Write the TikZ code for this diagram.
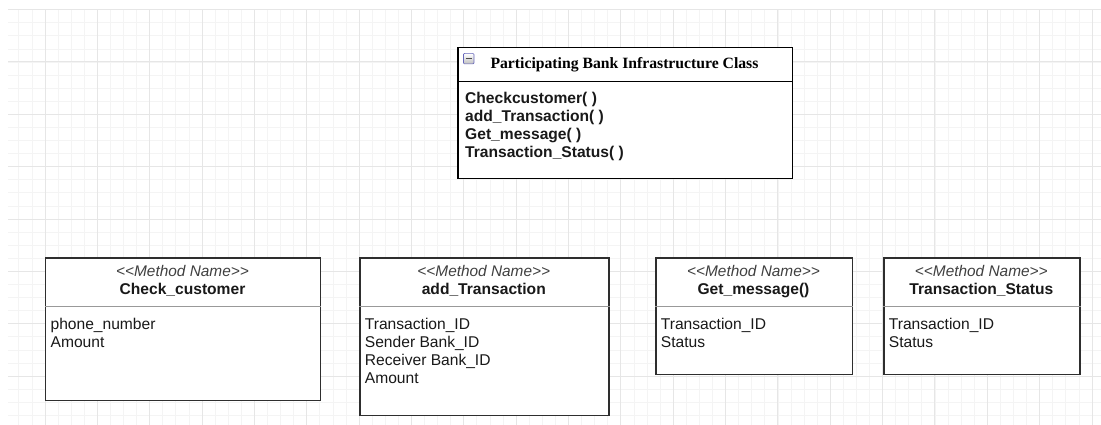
\documentclass[tikz,border=0pt]{standalone}
\usepackage{fontspec}
\setmainfont{Liberation Serif}
\setsansfont{Liberation Sans}
\usepackage{tikz}
\usetikzlibrary{positioning}

\definecolor{gridmajor}{HTML}{E6E6E6}
\definecolor{gridminor}{HTML}{F4F4F4}
\definecolor{boxline}{HTML}{2E2E2E}

\tikzset{
	umlbox/.style={draw=boxline, line width=1.2pt, fill=white, inner sep=0pt, anchor=north west},
	sepline/.style={draw=black!40, line width=0.9pt},
	txt/.style={inner sep=0pt, text=black!90, font=\sffamily\fontsize{15.6}{18}\selectfont},
	method/.style={txt, anchor=base west, font=\sffamily\bfseries\fontsize{15.6}{18}\selectfont},
	attr/.style={txt, anchor=base west},
	stereo/.style={txt, anchor=base, text=black!75, font=\sffamily\itshape\fontsize{15.4}{18}\selectfont},
	opname/.style={txt, anchor=base, font=\sffamily\bfseries\fontsize{15.6}{18}\selectfont},
	headtitle/.style={inner sep=0pt, anchor=base, font=\rmfamily\bfseries\fontsize{15.7}{18}\selectfont},
	foldicon/.style={draw=black!45!blue!60, line width=0.6pt, rounded corners=1pt,
		top color=white, bottom color=black!25, minimum size=10.5pt, inner sep=0pt}
}

\begin{document}
\begin{tikzpicture}[x=1pt,y=-1pt]

	\useasboundingbox (0,0) rectangle (1101,425);
	\fill[white] (0,0) rectangle (1101,425);

	% paper grid
	\foreach \k in {-2,...,80}
		\draw[gridminor, line width=0.8pt] ({45+13.0875*\k},9.65) -- ({45+13.0875*\k},425);
	\foreach \k in {-4,...,27}
		\draw[gridminor, line width=0.8pt] (8,{62+13.0875*\k}) -- (1101,{62+13.0875*\k});
	\foreach \k in {0,...,20}
		\draw[gridmajor, line width=1pt] ({45+52.35*\k},9.65) -- ({45+52.35*\k},425);
	\foreach \k in {0,...,7}
		\draw[gridmajor, line width=1pt] (8,{9.65+52.35*\k}) -- (1101,{9.65+52.35*\k});

	% infrastructure class
	\node[umlbox, draw=black, minimum width=334.4pt, minimum height=130.7pt] (infra) at (457.3,47.3) {};
	\draw[black, line width=1.2pt] ([yshift=-34.4pt]infra.north west) -- ([yshift=-34.4pt]infra.north east);
	\node[foldicon] (fold) at (468.7,58.7) {};
	\draw[black!70, line width=1.4pt] ([xshift=2.6pt]fold.west) -- ([xshift=-2.6pt]fold.east);
	\node[headtitle] (infratitle) at (624.5,68.3) {Participating Bank Infrastructure Class};
	\foreach \m [count=\i] in {Checkcustomer( ), add\_Transaction( ), Get\_message( ), Transaction\_Status( )}
		\node[method] (infram\i) at (465,{86+18*\i}) {\m};

	% method boxes
	\foreach \bx/\x/\w/\h/\opn/\attrs in {
		chk/45/275/142.7/Check\_customer/{phone\_number, Amount},
		add/359.3/249/157.7/add\_Transaction/{Transaction\_ID, Sender Bank\_ID, Receiver Bank\_ID, Amount},
		msg/655.3/196.4/116.7/Get\_message()/{Transaction\_ID, Status},
		sts/883.3/196/116.7/Transaction\_Status/{Transaction\_ID, Status}}
	{
		\node[umlbox, minimum width=\w pt, minimum height=\h pt] (\bx) at (\x,257.3) {};
		\draw[sepline] ([yshift=-49.4pt]\bx.north west) -- ([yshift=-49.4pt]\bx.north east);
		\node[stereo] (\bx st) at ({\x+\w/2},276) {<{}<Method Name>{}>};
		\node[opname] (\bx name) at ({\x+\w/2},294.3) {\opn};
		\foreach \a [count=\j] in \attrs
			\node[attr] (\bx a\j) at ({\x+5.4},{311.3+18*\j}) {\a};
	}

\end{tikzpicture}
\end{document}
